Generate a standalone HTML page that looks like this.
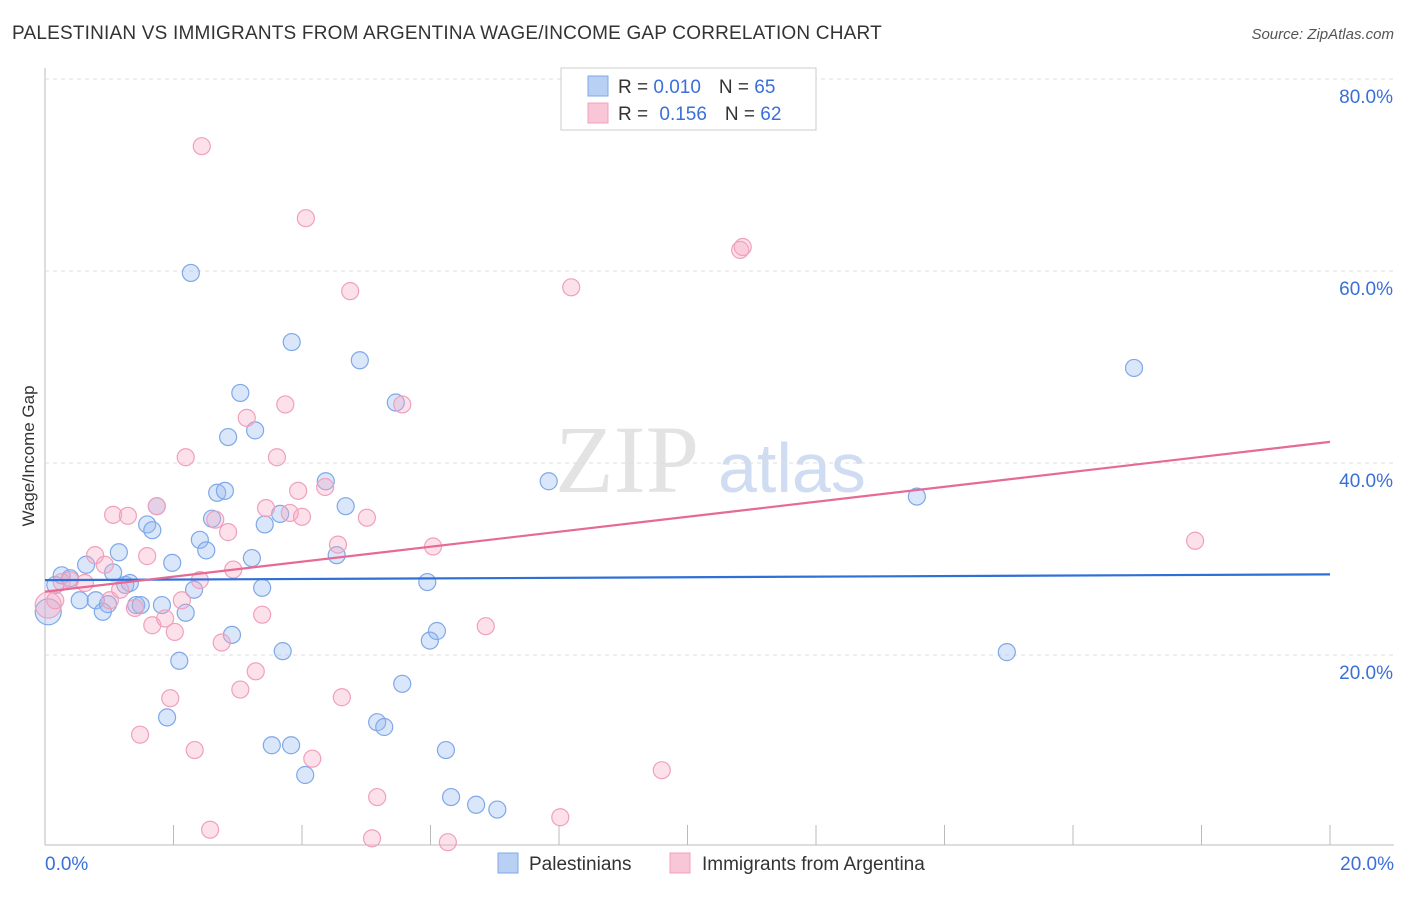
<!DOCTYPE html>
<html><head><meta charset="utf-8"><style>
body{margin:0;background:#fff;font-family:"Liberation Sans",sans-serif}
#c{position:relative;width:1406px;height:892px}
</style></head><body>
<div id="c">
<svg id="s" width="1406" height="892">
<text x="12" y="39" font-size="19" letter-spacing="0.2" fill="#333">PALESTINIAN VS IMMIGRANTS FROM ARGENTINA WAGE/INCOME GAP CORRELATION CHART</text>
<text x="1394" y="39" font-size="15" fill="#555" text-anchor="end" font-style="italic">Source: ZipAtlas.com</text>
<text x="34" y="456" font-size="17" fill="#333" text-anchor="middle" transform="rotate(-90 34 456)">Wage/Income Gap</text>
<text x="555" y="492" font-size="96" fill="#e3e3e3" font-family="Liberation Serif">ZIP</text>
<text x="718" y="492" font-size="70" fill="#cfdcf2">atlas</text>
<g id="grid"></g><g id="pts"></g><g id="lines"></g>
<rect x="561" y="68" width="255" height="62" fill="#fff" stroke="#ccc"/>
<rect x="588" y="76" width="20" height="20" fill="#b9d0f5" stroke="#7fa8e8"/>
<rect x="588" y="103" width="20" height="20" fill="#f8c6d6" stroke="#f0a0bc"/>
<text x="618" y="93" font-size="19" fill="#333">R = <tspan fill="#3a6fd8">0.010</tspan><tspan dx="18">N = </tspan><tspan fill="#3a6fd8">65</tspan></text>
<text x="618" y="120" font-size="19" fill="#333">R = <tspan dx="6" fill="#3a6fd8">0.156</tspan><tspan dx="18">N = </tspan><tspan fill="#3a6fd8">62</tspan></text>
<rect x="498" y="853" width="20" height="20" fill="#b9d0f5" stroke="#7fa8e8"/>
<text x="529" y="870" font-size="19" fill="#333">Palestinians</text>
<rect x="670" y="853" width="20" height="20" fill="#f8c6d6" stroke="#f0a0bc"/>
<text x="702" y="870" font-size="19" fill="#333">Immigrants from Argentina</text>
</svg></div>
<script>
const xTicks=[0,2,4,6,8,10,12,14,16,18,20];
const yTicks=[20,40,60,80];
const bluePx=[[48,612],[55,585],[62,575],[70,578],[80,600],[86,565],[96,600],[103,612],[108,604],[113,572],[119,552],[125,585],[130,583],[136,605],[141,605],[147,524],[152,530],[157,506],[162,605],[172,563],[179,661],[167,717],[186,613],[191,273],[194,590],[200,540],[206,550],[212,519],[217,493],[225,491],[228,437],[232,635],[240,393],[255,430],[252,558],[262,588],[265,524],[280,514],[272,745],[283,651],[292,342],[291,745],[305,775],[326,481],[337,555],[346,506],[360,360],[377,722],[384,727],[396,403],[402,684],[427,582],[430,641],[437,631],[446,750],[451,797],[476,805],[497,810],[549,481],[917,497],[1007,652],[1134,368]];
const pinkPx=[[48,605],[55,600],[62,582],[70,580],[85,583],[95,555],[105,565],[110,600],[113,515],[120,590],[128,516],[135,608],[140,735],[147,556],[152,625],[157,506],[165,619],[170,698],[175,632],[182,600],[186,457],[195,750],[200,580],[202,146],[210,830],[215,520],[222,643],[228,532],[233,570],[240,690],[247,418],[262,615],[256,671],[266,508],[277,457],[285,404],[290,513],[298,491],[302,517],[306,218],[312,759],[325,487],[338,545],[342,697],[350,291],[367,518],[372,838],[377,797],[402,404],[433,547],[448,842],[486,626],[560,817],[571,287],[662,770],[740,250],[743,247],[1195,541]];
const blueX=bluePx.map(p=>+((p[0]-45)/1285*20).toFixed(2));
const blueY=bluePx.map(p=>+((847-p[1])/9.6).toFixed(1));
const pinkX=pinkPx.map(p=>+((p[0]-45)/1285*20).toFixed(2));
const pinkY=pinkPx.map(p=>+((847-p[1])/9.6).toFixed(1));
const blueTrend=[27.8,28.4];
const pinkTrend=[26.6,42.2];
const X=v=>45+v/20*1285, Y=v=>847-v*9.6;
const NS="http://www.w3.org/2000/svg";
function mk(t,a,p){const e=document.createElementNS(NS,t);for(const k in a)e.setAttribute(k,a[k]);p.appendChild(e);return e;}
const g=document.getElementById('grid');
let ax=mk('line',{x1:45,y1:68,x2:45,y2:845,stroke:'#bbb'},g);

let bx=mk('line',{x1:45,y1:845,x2:1394,y2:845,stroke:'#bbb'},g);

yTicks.forEach(v=>{let l=mk('line',{x1:45,x2:1394,y1:Y(v),y2:Y(v),stroke:'#ddd','stroke-dasharray':'4,4'},g);

let t=mk('text',{x:1393,y:Y(v)+24,'text-anchor':'end','font-size':19,fill:'#3a6fd8'},g);t.textContent=v.toFixed(1)+'%';
});
xTicks.forEach(v=>{let l=mk('line',{x1:X(v),x2:X(v),y1:825,y2:845,stroke:'#bbb'},g);
});
[[0,'start',45],[20,'end',1394]].forEach(([v,a,x])=>{let t=mk('text',{x:x,y:870,'text-anchor':a,'font-size':19,fill:'#3a6fd8'},g);t.textContent=v.toFixed(1)+'%';
});
const P=document.getElementById('pts');
function draw(xs,ys,f,s,n){xs.forEach((x,i)=>{let c=mk('circle',{cx:X(x),cy:Y(ys[i]),r:i==0?13:8.5,fill:f,stroke:s,'stroke-width':1.2},P);
});}
draw(blueX,blueY,'rgba(150,185,240,0.35)','#7fa8e8','point-palestinian');
draw(pinkX,pinkY,'rgba(245,170,195,0.35)','#f0a0bc','point-argentina');
const L=document.getElementById('lines');
let b=mk('line',{x1:X(0),y1:Y(blueTrend[0]),x2:X(20),y2:Y(blueTrend[1]),stroke:'#2f6fd6','stroke-width':2.2},L);

let p=mk('line',{x1:X(0),y1:Y(pinkTrend[0]),x2:X(20),y2:Y(pinkTrend[1]),stroke:'#e66a98','stroke-width':2.2},L);

</script>
</body></html>
